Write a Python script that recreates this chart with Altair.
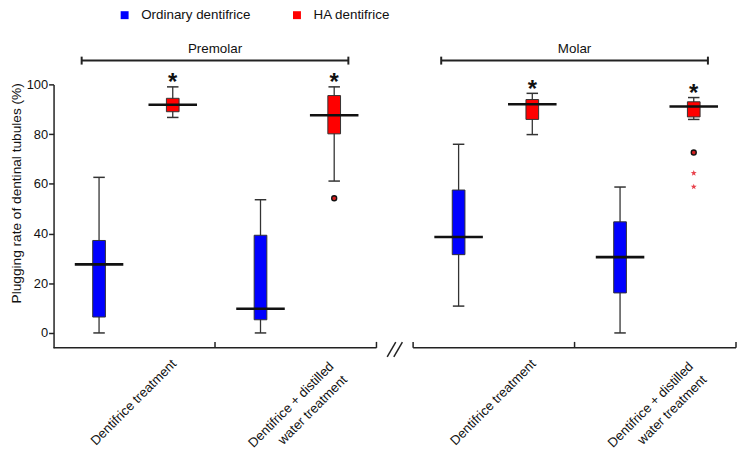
import altair as alt
import pandas as pd

FONT = "Liberation Sans, Arial, sans-serif"

# ---------------- data ----------------
sections = ["Premolar", "Molar"]
treatments = ["Dentifrice treatment", "Dentifrice + distilled\nwater treatment"]
groups = ["Ordinary dentifrice", "HA dentifrice"]
colors = ["#0000ff", "#ff0000"]

# box order: Premolar-DT (Ord, HA), Premolar-DW (Ord, HA), Molar-DT (Ord, HA), Molar-DW (Ord, HA)
box_section = [0, 0, 0, 0, 1, 1, 1, 1]
box_treatment = [0, 0, 1, 1, 0, 0, 1, 1]
box_group = [0, 1, 0, 1, 0, 1, 0, 1]
lower = [0.0, 86.7, 0.0, 61.1, 10.8, 79.8, 0.0, 85.9]
q1 = [6.4, 89.0, 5.3, 80.1, 31.5, 85.9, 16.1, 86.9]
median = [27.6, 91.8, 9.7, 87.6, 38.6, 92.0, 30.5, 91.1]
q3 = [37.2, 94.4, 39.3, 95.5, 57.5, 93.9, 44.7, 93.0]
upper = [62.6, 99.0, 53.6, 99.0, 75.9, 96.4, 58.7, 94.7]
significant = [False, True, False, True, False, True, False, True]

outlier_box = [3, 7]
outlier_val = [54.2, 72.6]
extreme_box = [7, 7]
extreme_val = [64.3, 58.8]

# ---------------- layout helpers ----------------
GAP = 0.227            # axis break width (in group units)
U = 163.0              # px per group unit
W = round((4 + GAP) * U)
YMIN, YMAX = -6, 100
H = 266
PY = H / (YMAX - YMIN)


def seg_start(s):
    return s * (2 + GAP)


def center(s, t):
    return seg_start(s) + t + 0.51


OFF = 37.2 / U
BOXW = 6.4 / U
CAPW = 5.8 / U
MEDW = 24.5 / U

rows = []
for i in range(len(lower)):
    c = center(box_section[i], box_treatment[i])
    x = c + (OFF if box_group[i] == 1 else -OFF)
    rows.append(dict(group=groups[box_group[i]], x=x, xl=x - BOXW, xr=x + BOXW,
                     cl=x - CAPW, cr=x + CAPW, ml=x - MEDW, mr=x + MEDW,
                     lower=lower[i], q1=q1[i], median=median[i], q3=q3[i],
                     upper=upper[i], sig=significant[i]))
boxes = pd.DataFrame(rows)

outs = pd.DataFrame({"x": [rows[b]["x"] for b in outlier_box], "v": outlier_val})
extr = pd.DataFrame({"x": [rows[b]["x"] for b in extreme_box], "v": extreme_val})

xs = alt.Scale(domain=[0, 4 + GAP], nice=False, zero=False)
ys = alt.Scale(domain=[YMIN, YMAX], nice=False, zero=False)
yaxis = alt.Axis(values=[0, 20, 40, 60, 80, 100], title="Plugging rate of dentinal tubules (%)",
                 grid=False, tickSize=5, tickWidth=1.5, tickColor="#222",
                 domainColor="#222", domainWidth=1.5, labelFont=FONT, labelFontSize=13,
                 labelColor="#111", labelPadding=1, titleFont=FONT, titleFontSize=13.8,
                 titleFontWeight="normal", titleColor="#111", titleX=-37, titleY=109.5,
                 titleAngle=270, titleAlign="center", titleBaseline="middle")


def X(f):
    return alt.X(f, type="quantitative", scale=xs, axis=None)


def Y(f):
    return alt.Y(f, type="quantitative", scale=ys, axis=yaxis)


whisk = alt.Chart(boxes).mark_rule(color="#333", strokeWidth=1.3).encode(
    x=X("x"), y=Y("lower"), y2=alt.Y2("upper"))
cap_hi = alt.Chart(boxes).mark_rule(color="#333", strokeWidth=1.5).encode(
    x=X("cl"), x2=alt.X2("cr"), y=Y("upper"))
cap_lo = alt.Chart(boxes).mark_rule(color="#333", strokeWidth=1.5).encode(
    x=X("cl"), x2=alt.X2("cr"), y=Y("lower"))
box = alt.Chart(boxes).mark_bar(stroke="#333", strokeWidth=1).encode(
    x=X("xl"), x2=alt.X2("xr"), y=Y("q1"), y2=alt.Y2("q3"),
    color=alt.Color("group:N", scale=alt.Scale(domain=groups, range=colors),
                    legend=alt.Legend(orient="none", legendX=65, legendY=-77,
                                      direction="horizontal", title=None,
                                      symbolType="square", symbolSize=64,
                                      symbolStrokeWidth=0, labelFont=FONT,
                                      labelFontSize=13.5, labelColor="#111",
                                      labelOffset=10, columnPadding=40, padding=0)))
med = alt.Chart(boxes).mark_rule(color="#111", strokeWidth=2.6).encode(
    x=X("ml"), x2=alt.X2("mr"), y=Y("median"))
star_sig = alt.Chart(boxes).transform_filter("datum.sig").mark_text(
    text="*", fontSize=24, fontWeight="bold", font="Liberation Sans", dy=3.6,
    baseline="alphabetic", color="#111").encode(x=X("x"), y=Y("upper"))
circ = alt.Chart(outs).mark_point(shape="circle", filled=True, fill="#d42020", stroke="#111",
                                  strokeWidth=1.4, size=25, opacity=1).encode(
    x=X("x"), y=Y("v"))
STAR = ("M0,-1L0.24,-0.33L0.95,-0.31L0.39,0.13L0.59,0.81L0,0.41L-0.59,0.81L-0.39,0.13"
        "L-0.95,-0.31L-0.24,-0.33Z")
ext = alt.Chart(extr).mark_point(shape=STAR, filled=True, color="#e8424c", size=40,
                                 opacity=1).encode(x=X("x"), y=Y("v"))

# broken x axis
axis_seg = pd.DataFrame({"a": [0, seg_start(1)], "b": [2, seg_start(1) + 2], "y": [YMIN, YMIN]})
xline = alt.Chart(axis_seg).mark_rule(color="#222", strokeWidth=1.5).encode(
    x=X("a"), x2=alt.X2("b"), y=Y("y"))
tick_pos = [1, 2, seg_start(1), seg_start(1) + 1, seg_start(1) + 2]
ticks = pd.DataFrame({"x": tick_pos, "y": [YMIN] * 5, "y2": [YMIN + 6 / PY] * 5})
xticks = alt.Chart(ticks).mark_rule(color="#222", strokeWidth=1.5).encode(
    x=X("x"), y=Y("y"), y2=alt.Y2("y2"))
gc = 2 + GAP / 2
brk = pd.DataFrame({"a": [gc - 0.047, gc - 0.006], "b": [gc + 0.006, gc + 0.047],
                    "y": [YMIN - 3.6, YMIN - 3.6], "y2": [YMIN + 2.3, YMIN + 2.3]})
breaks = alt.Chart(brk).mark_rule(color="#222", strokeWidth=1.5).encode(
    x=X("a"), x2=alt.X2("b"), y=Y("y"), y2=alt.Y2("y2"))

lab_rows = []
for s in range(2):
    for t in range(2):
        c = center(s, t)
        lab_rows.append(dict(x=c + (0.255 if t == 0 else 0.23),
                             y=-12.8 if t == 0 else -13.8, text=treatments[t]))
labs = pd.DataFrame(lab_rows)
xlabels = alt.Chart(labs).mark_text(angle=315, align="right", baseline="alphabetic",
                                    lineBreak="\n", lineHeight=19, font=FONT,
                                    fontSize=13.3, color="#111").encode(
    x=X("x"), y=Y("y"), text="text:N")

# section brackets
BY = 100 + 24 / PY
br = pd.DataFrame({"a": [seg_start(s) + 1 - 0.826 for s in range(2)],
                   "b": [seg_start(s) + 1 + 0.826 for s in range(2)],
                   "y": [BY, BY], "lo": [BY - 4 / PY] * 2, "hi": [BY + 4 / PY] * 2,
                   "name": sections, "ty": [BY + 7.5 / PY] * 2,
                   "c": [seg_start(s) + 1 for s in range(2)]})
bline = alt.Chart(br).mark_rule(color="#222", strokeWidth=2).encode(
    x=X("a"), x2=alt.X2("b"), y=Y("y"))
bcap_a = alt.Chart(br).mark_rule(color="#222", strokeWidth=2).encode(
    x=X("a"), y=Y("lo"), y2=alt.Y2("hi"))
bcap_b = alt.Chart(br).mark_rule(color="#222", strokeWidth=2).encode(
    x=X("b"), y=Y("lo"), y2=alt.Y2("hi"))
bname = alt.Chart(br).mark_text(font=FONT, fontSize=13.5, baseline="alphabetic",
                                color="#111").encode(x=X("c"), y=Y("ty"), text="name:N")

chart = alt.layer(whisk, cap_hi, cap_lo, box, med, star_sig, circ, ext,
                  xline, xticks, breaks, xlabels, bline, bcap_a, bcap_b, bname).properties(
    width=W, height=H,
    autosize=alt.AutoSizeParams(type="none"),
    padding={"left": 46, "top": 75, "right": 1, "bottom": 100},
).configure_view(stroke=None)

chart.save("out.html", embed_options={"renderer": "svg", "actions": False})
